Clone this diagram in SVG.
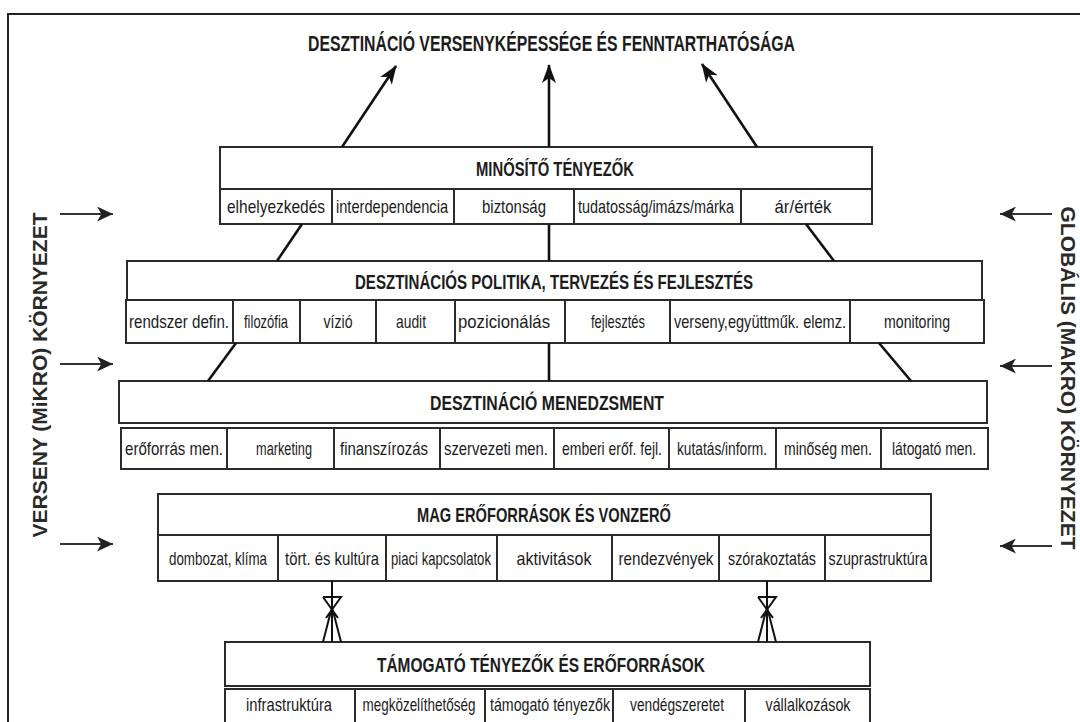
<svg xmlns="http://www.w3.org/2000/svg" width="1080" height="722" viewBox="0 0 1080 722">
<defs>
<style>
.bx{fill:#fff;stroke:#2b2b2b;stroke-width:2}
.dv{stroke:#2b2b2b;stroke-width:2}
.hd{font-family:"Liberation Sans Narrow","Liberation Sans",Arial,sans-serif;font-size:21px;font-weight:bold;fill:#1c1c1c}
.ct{font-family:"Liberation Sans Narrow","Liberation Sans",Arial,sans-serif;font-size:18px;fill:#1c1c1c;text-anchor:middle}
.sd{font-family:"Liberation Sans",Arial,sans-serif;font-size:20px;font-weight:bold;fill:#2a2a2a;text-anchor:middle}
.cn{stroke:#111;stroke-width:2.6;fill:none}
.sa{stroke:#333;stroke-width:2;fill:none}
.da{stroke:#111;stroke-width:2;fill:none}
</style>
<marker id="ah" viewBox="0 0 20 16" refX="18" refY="8" markerWidth="20" markerHeight="16" markerUnits="userSpaceOnUse" orient="auto">
<path d="M0,1 L19,8 L0,15 L5,8 Z" fill="#111"/>
</marker>
<marker id="sh" viewBox="0 0 16 14" refX="15" refY="7" markerWidth="17" markerHeight="15" markerUnits="userSpaceOnUse" orient="auto">
<path d="M0,0 L15,7 L0,14 L4,7 Z" fill="#222"/>
</marker>
</defs>
<rect x="0" y="0" width="1080" height="722" fill="#fff"/>
<path d="M8,740 V14 H1090" fill="none" stroke="#222" stroke-width="2"/>

<g id="title">
<text class="hd" transform="translate(308,51) scale(0.8,1)" style="font-size:22px" textLength="608.75" lengthAdjust="spacingAndGlyphs">DESZTINÁCIÓ VERSENYKÉPESSÉGE ÉS FENNTARTHATÓSÁGA</text>
</g>

<g id="side-left">
<text class="sd" transform="translate(47,375) rotate(-90)" x="0" y="0" textLength="325" lengthAdjust="spacingAndGlyphs">VERSENY (MiKRO) KÖRNYEZET</text>
</g>
<g id="side-right">
<text class="sd" transform="translate(1061,378) rotate(90)" x="0" y="0" textLength="343" lengthAdjust="spacingAndGlyphs">GLOBÁLIS (MAKRO) KÖRNYEZET</text>
</g>

<g id="minosito">
<rect class="bx" x="220" y="147" width="652" height="42"/>
<rect class="bx" x="220" y="189" width="652" height="35"/>
<line class="dv" x1="332" y1="189" x2="332" y2="224"/>
<line class="dv" x1="454" y1="189" x2="454" y2="224"/>
<line class="dv" x1="574" y1="189" x2="574" y2="224"/>
<line class="dv" x1="741" y1="189" x2="741" y2="224"/>
<text class="hd" transform="translate(476,176) scale(0.8,1)" textLength="197.5" lengthAdjust="spacingAndGlyphs">MINŐSÍTŐ TÉNYEZŐK</text>
<text class="ct" transform="translate(276,213) scale(0.8,1)" textLength="122.5" lengthAdjust="spacingAndGlyphs">elhelyezkedés</text>
<text class="ct" transform="translate(392,213) scale(0.8,1)" textLength="140" lengthAdjust="spacingAndGlyphs">interdependencia</text>
<text class="ct" transform="translate(514,213) scale(0.8,1)" textLength="80" lengthAdjust="spacingAndGlyphs">biztonság</text>
<text class="ct" transform="translate(656,213) scale(0.8,1)" textLength="195" lengthAdjust="spacingAndGlyphs">tudatosság/imázs/márka</text>
<text class="ct" transform="translate(803,213) scale(0.8,1)" textLength="71.25" lengthAdjust="spacingAndGlyphs">ár/érték</text>
</g>

<g id="politika">
<rect class="bx" x="127" y="261" width="855" height="39"/>
<rect class="bx" x="126" y="300" width="858" height="43"/>
<line class="dv" x1="233" y1="300" x2="233" y2="343"/>
<line class="dv" x1="300" y1="300" x2="300" y2="343"/>
<line class="dv" x1="376" y1="300" x2="376" y2="343"/>
<line class="dv" x1="455" y1="300" x2="455" y2="343"/>
<line class="dv" x1="565" y1="300" x2="565" y2="343"/>
<line class="dv" x1="670" y1="300" x2="670" y2="343"/>
<line class="dv" x1="850" y1="300" x2="850" y2="343"/>
<text class="hd" transform="translate(355,289) scale(0.8,1)" textLength="497.5" lengthAdjust="spacingAndGlyphs">DESZTINÁCIÓS POLITIKA, TERVEZÉS ÉS FEJLESZTÉS</text>
<text class="ct" transform="translate(179,328) scale(0.8,1)" textLength="125" lengthAdjust="spacingAndGlyphs">rendszer defin.</text>
<text class="ct" transform="translate(266,328) scale(0.8,1)" textLength="55" lengthAdjust="spacingAndGlyphs">filozófia</text>
<text class="ct" transform="translate(338,328) scale(0.8,1)" textLength="36.25" lengthAdjust="spacingAndGlyphs">vízió</text>
<text class="ct" transform="translate(411,328) scale(0.8,1)" textLength="37.5" lengthAdjust="spacingAndGlyphs">audit</text>
<text class="ct" transform="translate(504,328) scale(0.8,1)" textLength="115" lengthAdjust="spacingAndGlyphs">pozicionálás</text>
<text class="ct" transform="translate(618,328) scale(0.8,1)" textLength="67.5" lengthAdjust="spacingAndGlyphs">fejlesztés</text>
<text class="ct" transform="translate(760,328) scale(0.8,1)" textLength="215" lengthAdjust="spacingAndGlyphs">verseny,együttműk. elemz.</text>
<text class="ct" transform="translate(917,328) scale(0.8,1)" textLength="82.5" lengthAdjust="spacingAndGlyphs">monitoring</text>
</g>

<g id="menedzsment">
<rect class="bx" x="119" y="381" width="868" height="42"/>
<rect class="bx" x="121" y="428" width="867" height="41"/>
<line class="dv" x1="227" y1="428" x2="227" y2="469"/>
<line class="dv" x1="334" y1="428" x2="334" y2="469"/>
<line class="dv" x1="440" y1="428" x2="440" y2="469"/>
<line class="dv" x1="554" y1="428" x2="554" y2="469"/>
<line class="dv" x1="669" y1="428" x2="669" y2="469"/>
<line class="dv" x1="776" y1="428" x2="776" y2="469"/>
<line class="dv" x1="881" y1="428" x2="881" y2="469"/>
<text class="hd" transform="translate(430,410) scale(0.8,1)" textLength="292.5" lengthAdjust="spacingAndGlyphs">DESZTINÁCIÓ MENEDZSMENT</text>
<text class="ct" transform="translate(174,455) scale(0.8,1)" textLength="122.5" lengthAdjust="spacingAndGlyphs">erőforrás men.</text>
<text class="ct" transform="translate(284,455) scale(0.8,1)" textLength="70" lengthAdjust="spacingAndGlyphs">marketing</text>
<text class="ct" transform="translate(384,455) scale(0.8,1)" textLength="110" lengthAdjust="spacingAndGlyphs">finanszírozás</text>
<text class="ct" transform="translate(496,455) scale(0.8,1)" textLength="130" lengthAdjust="spacingAndGlyphs">szervezeti men.</text>
<text class="ct" transform="translate(612,455) scale(0.8,1)" textLength="125" lengthAdjust="spacingAndGlyphs">emberi erőf. fejl.</text>
<text class="ct" transform="translate(722,455) scale(0.8,1)" textLength="112.5" lengthAdjust="spacingAndGlyphs">kutatás/inform.</text>
<text class="ct" transform="translate(828,455) scale(0.8,1)" textLength="110" lengthAdjust="spacingAndGlyphs">minőség men.</text>
<text class="ct" transform="translate(934,455) scale(0.8,1)" textLength="105" lengthAdjust="spacingAndGlyphs">látogató men.</text>
</g>

<g id="mag">
<rect class="bx" x="158" y="494" width="773" height="41"/>
<rect class="bx" x="158" y="535" width="773" height="46"/>
<line class="dv" x1="278" y1="535" x2="278" y2="581"/>
<line class="dv" x1="386" y1="535" x2="386" y2="581"/>
<line class="dv" x1="497" y1="535" x2="497" y2="581"/>
<line class="dv" x1="612" y1="535" x2="612" y2="581"/>
<line class="dv" x1="719" y1="535" x2="719" y2="581"/>
<line class="dv" x1="825" y1="535" x2="825" y2="581"/>
<text class="hd" transform="translate(417,522) scale(0.8,1)" textLength="317.5" lengthAdjust="spacingAndGlyphs">MAG ERŐFORRÁSOK ÉS VONZERŐ</text>
<text class="ct" transform="translate(218,565) scale(0.8,1)" textLength="122.5" lengthAdjust="spacingAndGlyphs">dombozat, klíma</text>
<text class="ct" transform="translate(332,565) scale(0.8,1)" textLength="117.5" lengthAdjust="spacingAndGlyphs">tört. és kultúra</text>
<text class="ct" transform="translate(441,565) scale(0.8,1)" textLength="125" lengthAdjust="spacingAndGlyphs">piaci kapcsolatok</text>
<text class="ct" transform="translate(554,565) scale(0.8,1)" textLength="93.75" lengthAdjust="spacingAndGlyphs">aktivitások</text>
<text class="ct" transform="translate(666,565) scale(0.8,1)" textLength="118.75" lengthAdjust="spacingAndGlyphs">rendezvények</text>
<text class="ct" transform="translate(772,565) scale(0.8,1)" textLength="110" lengthAdjust="spacingAndGlyphs">szórakoztatás</text>
<text class="ct" transform="translate(878,565) scale(0.8,1)" textLength="123.75" lengthAdjust="spacingAndGlyphs">szuprastruktúra</text>
</g>

<g id="tamogato">
<rect class="bx" x="225" y="642" width="645" height="44"/>
<rect class="bx" x="225" y="689" width="645" height="46"/>
<line class="dv" x1="355" y1="689" x2="355" y2="735"/>
<line class="dv" x1="485" y1="689" x2="485" y2="735"/>
<line class="dv" x1="613" y1="689" x2="613" y2="735"/>
<line class="dv" x1="745" y1="689" x2="745" y2="735"/>
<text class="hd" transform="translate(377,672) scale(0.8,1)" textLength="410" lengthAdjust="spacingAndGlyphs">TÁMOGATÓ TÉNYEZŐK ÉS ERŐFORRÁSOK</text>
<text class="ct" transform="translate(289,711) scale(0.8,1)" textLength="107.5" lengthAdjust="spacingAndGlyphs">infrastruktúra</text>
<text class="ct" transform="translate(419,711) scale(0.8,1)" textLength="141.25" lengthAdjust="spacingAndGlyphs">megközelíthetőség</text>
<text class="ct" transform="translate(550,711) scale(0.8,1)" textLength="150" lengthAdjust="spacingAndGlyphs">támogató tényezők</text>
<text class="ct" transform="translate(677,711) scale(0.8,1)" textLength="117.5" lengthAdjust="spacingAndGlyphs">vendégszeretet</text>
<text class="ct" transform="translate(808,711) scale(0.8,1)" textLength="106.25" lengthAdjust="spacingAndGlyphs">vállalkozások</text>
</g>

<g id="connectors">
<line class="cn" x1="342" y1="147" x2="396" y2="66" marker-end="url(#ah)"/>
<line class="cn" x1="549" y1="147" x2="549" y2="65" marker-end="url(#ah)"/>
<line class="cn" x1="757" y1="147" x2="702" y2="64" marker-end="url(#ah)"/>
<line class="cn" x1="302" y1="224" x2="277" y2="261"/>
<line class="cn" x1="549" y1="224" x2="549" y2="261"/>
<line class="cn" x1="806" y1="224" x2="834" y2="261"/>
<line class="cn" x1="236" y1="343" x2="208" y2="381"/>
<line class="cn" x1="549" y1="343" x2="549" y2="381"/>
<line class="cn" x1="879" y1="343" x2="911" y2="381"/>
<line class="sa" x1="60" y1="214" x2="113" y2="214" marker-end="url(#sh)"/>
<line class="sa" x1="60" y1="364" x2="113" y2="364" marker-end="url(#sh)"/>
<line class="sa" x1="60" y1="544" x2="113" y2="544" marker-end="url(#sh)"/>
<line class="sa" x1="1052" y1="214" x2="1000" y2="214" marker-end="url(#sh)"/>
<line class="sa" x1="1052" y1="366" x2="1000" y2="366" marker-end="url(#sh)"/>
<line class="sa" x1="1052" y1="546" x2="1000" y2="546" marker-end="url(#sh)"/>
<g class="da">
<path d="M332,581 V642 M323,597 H341 L326,618 M323,597 L338,618 M332,607 L323,642 M332,607 L341,642"/>
<path d="M767,581 V642 M758,597 H776 L761,618 M758,597 L773,618 M767,607 L758,642 M767,607 L776,642"/>
</g>
</g>
</svg>
